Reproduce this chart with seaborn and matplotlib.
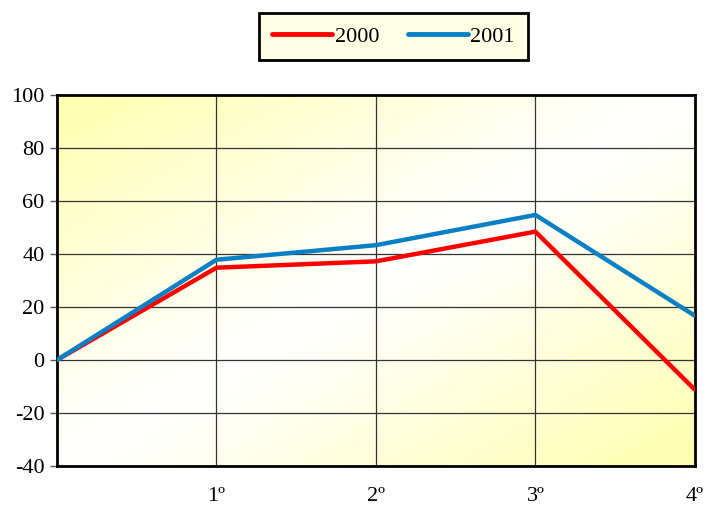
import numpy as np
import pandas as pd
import matplotlib
matplotlib.use("Agg")
import matplotlib.pyplot as plt
from matplotlib.lines import Line2D
import seaborn as sns

x_pos = [0, 1, 2, 3, 4]
tick_labels = ["1º", "2º", "3º", "4º"]
serie_2000 = [0, 34.8, 37.2, 48.4, -11.2]
serie_2001 = [0, 37.8, 43.3, 54.7, 16.7]

df = pd.DataFrame({
    "x": x_pos * 2,
    "valor": serie_2000 + serie_2001,
    "ano": ["2000"] * 5 + ["2001"] * 5,
})

sns.set_style("white")
plt.rcParams["font.family"] = ["Liberation Serif", "DejaVu Serif"]
plt.rcParams["font.size"] = 16
plt.rcParams["axes.unicode_minus"] = False
plt.rcParams["text.color"] = "black"
plt.rcParams["xtick.color"] = "black"
plt.rcParams["ytick.color"] = "black"

fig = plt.figure(figsize=(7.04, 5.05), dpi=100)
ax = fig.add_axes([0.081, 0.0772, 0.906, 0.735])

# fundo em degradê (amarelo - branco - amarelo)
gx, gy = np.meshgrid(np.linspace(0, 1, 300), np.linspace(1, 0, 300))
t = (gx + (1 - gy)) / 2
k = np.abs(2 * t - 1) ** 1.1
img = np.ones((300, 300, 3))
img[..., 2] = 1 - 0.32 * k
ax.imshow(img, extent=[0, 1, 0, 1], transform=ax.transAxes, aspect="auto", zorder=0)

sns.lineplot(data=df, x="x", y="valor", hue="ano",
             palette={"2000": "#FF0000", "2001": "#0A80C4"},
             linewidth=3.2, ax=ax, legend=False, zorder=3)

ax.set_xlim(0, 4)
ax.set_ylim(-40, 100)
ax.set_yticks(np.arange(-40, 101, 20))
ax.set_xticks([1, 2, 3, 4])
ax.set_xticklabels(tick_labels)
ax.tick_params(axis="x", length=0, pad=15, labelsize=16)
ax.tick_params(axis="y", length=5, width=1, color="#555555", pad=4, left=True, labelsize=16)
ax.grid(True, color="#333333", linewidth=0.9, zorder=1)
for s in ax.spines.values():
    s.set_color("black")
    s.set_linewidth(2)
ax.set_xlabel("")
ax.set_ylabel("")

# legenda
handles = [Line2D([], [], color="#FF0000", lw=3.5, solid_capstyle="round"),
           Line2D([], [], color="#0A80C4", lw=3.5, solid_capstyle="round")]
leg = fig.legend(handles, ["2000", "2001"], loc="center", bbox_to_anchor=(0.559, 0.928),
                 ncol=2, frameon=True, fancybox=False, edgecolor="black",
                 facecolor="#FFFFE6", framealpha=1, handlelength=2.7,
                 handletextpad=0.1, columnspacing=1.3, borderpad=0.6, fontsize=16)
leg.get_frame().set_linewidth(2)

fig.savefig("out.png", dpi=100)
